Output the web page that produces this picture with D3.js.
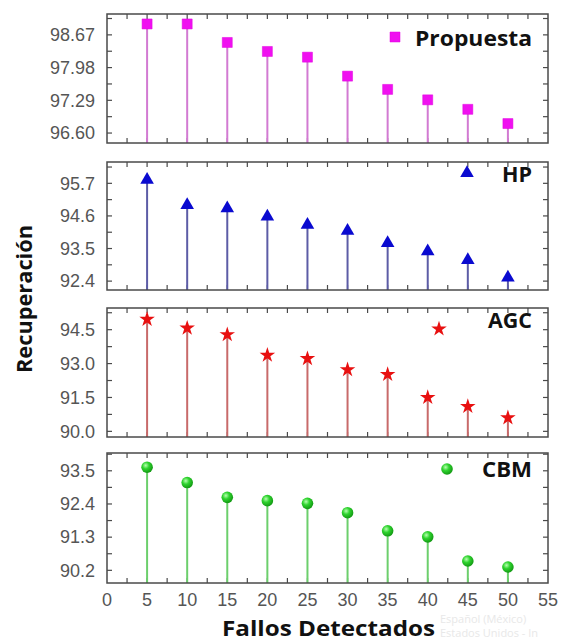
<!DOCTYPE html>
<html>
<head>
<meta charset="utf-8">
<script src="https://cdn.jsdelivr.net/npm/d3@7"></script>
<style>
  html, body { margin: 0; padding: 0; background: #fff; }
  svg { display: block; }
</style>
</head>
<body>
<svg id="chart" width="563" height="641"></svg>
<script>
// Fallos detectados (x) shared by all four panels
const fallos = [5, 10, 15, 20, 25, 30, 35, 40, 45, 50];

// Recuperación per method
const propuesta = [98.90, 98.90, 98.51, 98.32, 98.20, 97.80, 97.52, 97.30, 97.10, 96.80];
const hp        = [95.85, 95.00, 94.89, 94.61, 94.33, 94.13, 93.72, 93.44, 93.14, 92.55];
const agc       = [94.96, 94.57, 94.28, 93.37, 93.22, 92.73, 92.52, 91.50, 91.10, 90.60];
const cbm       = [93.62, 93.11, 92.62, 92.51, 92.42, 92.11, 91.51, 91.31, 90.51, 90.31];

// Y tick labels per panel
const ticksPropuesta = [96.60, 97.29, 97.98, 98.67];
const ticksHP        = [92.4, 93.5, 94.6, 95.7];
const ticksAGC       = [90.0, 91.5, 93.0, 94.5];
const ticksCBM       = [90.2, 91.3, 92.4, 93.5];

// X tick labels
const xTicks = [0, 5, 10, 15, 20, 25, 30, 35, 40, 45, 50, 55];

const svg = d3.select("#chart");
const left = 107, right = 548;
const x = d3.scaleLinear().domain([0, 55]).range([left, right]);

const defs = svg.append("defs");
const grad = defs.append("radialGradient").attr("id", "ball")
  .attr("cx", "38%").attr("cy", "35%").attr("r", "65%");
grad.append("stop").attr("offset", "0%").attr("stop-color", "#b8ffb0");
grad.append("stop").attr("offset", "45%").attr("stop-color", "#2fd42f");
grad.append("stop").attr("offset", "100%").attr("stop-color", "#139a13");

const panels = [
  { name: "Propuesta", values: propuesta, ticks: ticksPropuesta, fmt: d3.format(".2f"),
    top: 14, bottom: 143, domain: [96.39, 99.11],
    stem: "#d27ad2", fill: "#f010f0", symbol: "square",
    legend: { mx: 395, my: 37, tx: 532, ty: 46, len: 117 } },
  { name: "HP", values: hp, ticks: ticksHP, fmt: d3.format(".1f"),
    top: 162, bottom: 290, domain: [92.1, 96.42],
    stem: "#5c5ca6", fill: "#0a0ad0", symbol: "triangle",
    legend: { mx: 467, my: 172, tx: 532, ty: 181.5, len: 30 } },
  { name: "AGC", values: agc, ticks: ticksAGC, fmt: d3.format(".1f"),
    top: 308, bottom: 437, domain: [89.75, 95.46],
    stem: "#c86a6a", fill: "#e81010", symbol: "star",
    legend: { mx: 439, my: 329, tx: 532, ty: 328, len: 44 } },
  { name: "CBM", values: cbm, ticks: ticksCBM, fmt: d3.format(".1f"),
    top: 453, bottom: 583, domain: [89.78, 94.09],
    stem: "#6ccf6c", fill: "url(#ball)", symbol: "ball",
    legend: { mx: 447, my: 469, tx: 532, ty: 477, len: 50 } }
];

function drawMarker(g, kind, cx, cy, fill) {
  if (kind === "ball") {
    g.append("circle").attr("cx", cx).attr("cy", cy).attr("r", 5.8).attr("fill", fill);
    return;
  }
  const type = kind === "square" ? d3.symbolSquare : kind === "triangle" ? d3.symbolTriangle : d3.symbolStar;
  const size = kind === "square" ? 100 : kind === "triangle" ? 80 : 75;
  g.append("path")
    .attr("d", d3.symbol().type(type).size(size)())
    .attr("transform", `translate(${cx},${cy + (kind === "triangle" ? 1 : 0)})`)
    .attr("fill", fill)
    .attr("stroke", kind === "square" ? "#e000e0" : "none")
    .attr("stroke-width", 0.5);
}

const frameColor = "#4a4a4a";

panels.forEach((p, i) => {
  const y = d3.scaleLinear().domain(p.domain).range([p.bottom, p.top]);
  const g = svg.append("g");

  // major and minor (half-step) y tick positions inside the panel
  const step = p.ticks[1] - p.ticks[0];
  const yTickVals = [];
  for (let k = -1; k <= p.ticks.length; k++) {
    yTickVals.push(p.ticks[0] + k * step);
    yTickVals.push(p.ticks[0] + (k + 0.5) * step);
  }
  const yAll = yTickVals.filter(v => v > p.domain[0] && v < p.domain[1]);

  // x ticks every 2.5 on top and bottom edges
  const xTickVals = d3.range(2.5, 55, 2.5);

  // tick marks (drawn inward)
  g.selectAll(".xb").data(xTickVals).join("line")
    .attr("x1", d => x(d)).attr("x2", d => x(d))
    .attr("y1", p.bottom).attr("y2", p.bottom - 5)
    .attr("stroke", frameColor).attr("stroke-width", 1.2);
  g.selectAll(".xt").data(xTickVals).join("line")
    .attr("x1", d => x(d)).attr("x2", d => x(d))
    .attr("y1", p.top).attr("y2", p.top + 5)
    .attr("stroke", frameColor).attr("stroke-width", 1.2);
  g.selectAll(".yl").data(yAll).join("line")
    .attr("x1", left).attr("x2", left + 5)
    .attr("y1", d => y(d)).attr("y2", d => y(d))
    .attr("stroke", frameColor).attr("stroke-width", 1.2);
  g.selectAll(".yr").data(yAll).join("line")
    .attr("x1", right).attr("x2", right - 5)
    .attr("y1", d => y(d)).attr("y2", d => y(d))
    .attr("stroke", frameColor).attr("stroke-width", 1.2);

  // y tick labels
  g.selectAll(".ylab").data(p.ticks).join("text")
    .attr("x", 95).attr("y", d => y(d) + 6.3)
    .attr("text-anchor", "end")
    .attr("font-family", "'Liberation Sans', Arial, sans-serif")
    .attr("font-size", 18)
    .attr("fill", "#555")
    .text(d => p.fmt(d));

  // stems
  g.selectAll(".stem").data(p.values).join("line")
    .attr("x1", (d, j) => x(fallos[j])).attr("x2", (d, j) => x(fallos[j]))
    .attr("y1", p.bottom).attr("y2", d => y(d))
    .attr("stroke", p.stem).attr("stroke-width", 2);

  // frame
  g.append("rect")
    .attr("x", left).attr("y", p.top)
    .attr("width", right - left).attr("height", p.bottom - p.top)
    .attr("fill", "none").attr("stroke", frameColor).attr("stroke-width", 1.5);

  // markers
  p.values.forEach((v, j) => drawMarker(g, p.symbol, x(fallos[j]), y(v), p.fill));

  // legend
  drawMarker(g, p.symbol, p.legend.mx, p.legend.my, p.fill);
  g.append("text")
    .attr("x", p.legend.tx - p.legend.len).attr("y", p.legend.ty)
    .attr("textLength", p.legend.len).attr("lengthAdjust", "spacingAndGlyphs")
    .attr("font-family", "'Open Sans', sans-serif")
    .attr("font-weight", 700)
    .attr("font-size", 21)
    .attr("fill", "#111")
    .text(p.name);

  // x tick labels under the last panel only
  if (i === panels.length - 1) {
    g.selectAll(".xlab").data(xTicks).join("text")
      .attr("x", d => x(d)).attr("y", 606)
      .attr("text-anchor", "middle")
      .attr("font-family", "'Liberation Sans', Arial, sans-serif")
      .attr("font-size", 18)
      .attr("fill", "#555")
      .text(d => d);
  }
});

// axis titles
svg.append("text")
  .attr("x", 222).attr("y", 636)
  .attr("textLength", 213).attr("lengthAdjust", "spacingAndGlyphs")
  .attr("font-family", "'Open Sans', sans-serif")
  .attr("font-weight", 700).attr("font-size", 20.5)
  .attr("fill", "#111")
  .text("Fallos Detectados");

svg.append("text")
  .attr("transform", "translate(32,373) rotate(-90)")
  .attr("textLength", 148).attr("lengthAdjust", "spacingAndGlyphs")
  .attr("font-family", "'Open Sans', sans-serif")
  .attr("font-weight", 700).attr("font-size", 20.5)
  .attr("fill", "#111")
  .text("Recuperación");

// faint system overlay text in the corner
svg.append("text")
  .attr("x", 440).attr("y", 623)
  .attr("font-family", "'Open Sans', sans-serif")
  .attr("font-size", 11).attr("fill", "#e8e8e8")
  .text("Español (México)");
svg.append("text")
  .attr("x", 440).attr("y", 637)
  .attr("font-family", "'Open Sans', sans-serif")
  .attr("font-size", 11).attr("fill", "#e8e8e8")
  .text("Estados Unidos - In");
</script>
</body>
</html>
